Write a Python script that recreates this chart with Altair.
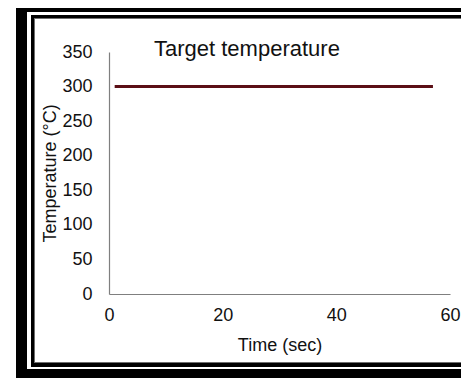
import altair as alt
import pandas as pd

# Data
time_sec = [1, 57]
temperature = [300, 300]
x_ticks = [0, 20, 40, 60]
y_ticks = [0, 50, 100, 150, 200, 250, 300, 350]
chart_title = ["Target temperature"]

FONT = "Liberation Sans"

df = pd.DataFrame({"Time (sec)": time_sec, "Temperature": temperature})
one = pd.DataFrame({"k": [0]})
title_df = pd.DataFrame({"label": chart_title})

def frame_rect(color, x, x2, y, y2):
    return alt.Chart(one).mark_rect(color=color, strokeWidth=0).encode(
        x=alt.value(x), x2=alt.value(x2), y=alt.value(y), y2=alt.value(y2)
    )

# decorative slide frame (pixel offsets relative to plot area)
frame = alt.layer(
    frame_rect("#000000", -93, 360, -44, 326),
    frame_rect("#ffffff", -82, 360, -40, 317),
    frame_rect("#000000", -78, 360, -37, 315),
    frame_rect("#6e6e6e", -75, 360, -34, 311),
    frame_rect("#ffffff", -74, 360, -33, 310),
)

title = alt.Chart(title_df).mark_text(
    align="left", baseline="alphabetic", fontSize=22, font=FONT, color="#111111"
).encode(text="label:N", x=alt.value(45), y=alt.value(4))

line = alt.Chart(df).mark_line(color="#5b0f16", strokeWidth=3).encode(
    x=alt.X(
        "Time (sec):Q",
        scale=alt.Scale(domain=[0, 60], nice=False),
        axis=alt.Axis(
            values=x_ticks, title="Time (sec)", grid=False, ticks=False, tickSize=0,
            labelPadding=12, labelFontSize=18, labelFont=FONT, labelColor="#111111",
            labelFlush=False,
            titleFontSize=18, titleFont=FONT, titleFontWeight="normal", titleColor="#111111",
            titleY=56, titleBaseline="alphabetic",
            domainColor="#7f7f7f", domainWidth=1.2, zindex=1,
        ),
    ),
    y=alt.Y(
        "Temperature:Q",
        scale=alt.Scale(domain=[0, 350], nice=False),
        axis=alt.Axis(
            values=y_ticks, title="Temperature (°C)", grid=False, ticks=False, tickSize=0,
            labelPadding=17, labelFontSize=18, labelFont=FONT, labelColor="#111111",
            titleFontSize=18, titleFont=FONT, titleFontWeight="normal", titleColor="#111111",
            titleX=-54, titleY=121, titleAngle=-90, titleBaseline="alphabetic", titleAlign="center",
            domainColor="#7f7f7f", domainWidth=1.2, zindex=1,
        ),
    ),
)

chart = alt.layer(frame, title, line).properties(
    width=341,
    height=242,
    autosize=alt.AutoSizeParams(type="none"),
    padding={"left": 101, "top": 44, "right": 11, "bottom": 84},
).configure_view(strokeWidth=0)

chart.save("out.html", embed_options={"renderer": "svg", "actions": False})
